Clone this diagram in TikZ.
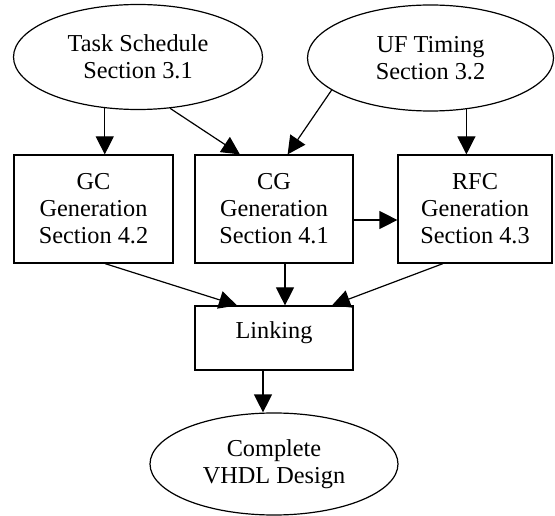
\documentclass[tikz,border=0pt]{standalone}
\usepackage{fontspec}
\setmainfont{Liberation Serif}
\usetikzlibrary{shapes.geometric,arrows.meta}
\begin{document}
\begin{tikzpicture}[x=1pt,y=-1pt,
  every node/.style={line width=1.2pt,inner sep=0pt,align=center,
    font=\fontsize{24.3}{27}\selectfont},
  oval/.style={draw,ellipse},
  box/.style={draw,rectangle},
  arr/.style={line width=1.2pt,-{Triangle[length=18pt,width=18pt]}}]
\useasboundingbox (0,0) rectangle (555,516);
\node[oval,minimum width=249pt,minimum height=105pt] (task) at (138,57) {Task Schedule\\Section 3.1};
\node[oval,minimum width=246pt,minimum height=106pt] (uf) at (430.5,58) {UF Timing\\Section 3.2};
\node[box,minimum width=159pt,minimum height=108pt] (gc) at (93.5,209) {GC\\Generation\\Section 4.2};
\node[box,minimum width=158pt,minimum height=108pt] (cg) at (274,209) {CG\\Generation\\Section 4.1};
\node[box,minimum width=154pt,minimum height=108pt] (rfc) at (475,209) {RFC\\Generation\\Section 4.3};
\node[box,minimum width=158pt,minimum height=64pt,text height=10pt,text depth=10pt] (link) at (274,338) {Linking};
\node[oval,minimum width=248pt,minimum height=102pt] (comp) at (274,464) {Complete\\VHDL Design};
\draw[arr] (task.237) -- (task.237 |- gc.north);
\draw[arr] (task.302) -- (cg.122);
\draw[arr] (uf.198) -- (cg.76);
\draw[arr] (uf.305) -- (uf.305 |- rfc.north);
\draw[arr] ([yshift=-11pt]cg.east) -- ([yshift=-11pt]rfc.west);
\draw[arr] ([xshift=11.5pt]gc.south) -- ([xshift=-37pt]link.north);
\draw[arr] ([xshift=11pt]cg.south) -- ([xshift=11pt]link.north);
\draw[arr] ([xshift=-32pt]rfc.south) -- ([xshift=58pt]link.north);
\draw[arr] ([xshift=-11pt]link.south) -- ([xshift=-11pt]comp.north);
\end{tikzpicture}
\end{document}
